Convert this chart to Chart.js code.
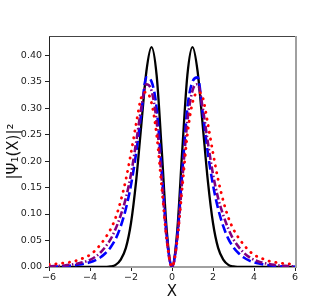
<!DOCTYPE html>
<html><head><meta charset="utf-8">
<script src="https://cdn.jsdelivr.net/npm/chart.js@4"></script>
<style>html,body{margin:0;padding:0;background:#fff}#wrap{width:329px;height:305px}</style>
</head><body><div id="wrap"><canvas id="c" width="329" height="305"></canvas></div>
<script>
const xs = [-6,-5.75,-5.5,-5.25,-5,-4.75,-4.5,-4.25,-4,-3.75,-3.5,-3.25,-3,-2.75,-2.5,-2.25,-2,-1.75,-1.5,-1.25,-1,-0.75,-0.5,-0.25,0,0.25,0.5,0.75,1,1.25,1.5,1.75,2,2.25,2.5,2.75,3,3.25,3.5,3.75,4,4.25,4.5,4.75,5,5.25,5.5,5.75,6];
const black = [0,0,0,0,0,0,0,0,0,0,0,0.0003,0.001,0.004,0.014,0.036,0.083,0.162,0.267,0.369,0.415,0.362,0.220,0.066,0,0.066,0.220,0.362,0.415,0.369,0.267,0.162,0.083,0.036,0.014,0.004,0.001,0.0003,0,0,0,0,0,0,0,0,0,0,0];
const blue = [0.0005,0.0007,0.001,0.0015,0.0023,0.0033,0.0046,0.0065,0.009,0.0125,0.018,0.026,0.037,0.053,0.077,0.11,0.155,0.215,0.29,0.358,0.35,0.30,0.18,0.055,0,0.055,0.18,0.30,0.35,0.358,0.29,0.215,0.155,0.11,0.077,0.053,0.037,0.026,0.018,0.0125,0.009,0.0065,0.0046,0.0033,0.0023,0.0015,0.001,0.0007,0.0005];
const purple = [0.0012,0.0016,0.0021,0.0029,0.004,0.0055,0.0075,0.01,0.0135,0.019,0.027,0.038,0.052,0.072,0.098,0.13,0.175,0.235,0.30,0.345,0.333,0.275,0.165,0.05,0,0.05,0.165,0.275,0.333,0.345,0.30,0.235,0.175,0.13,0.098,0.072,0.052,0.038,0.027,0.019,0.0135,0.01,0.0075,0.0055,0.004,0.0029,0.0021,0.0016,0.0012];
const red = [0.005,0.0057,0.0065,0.0077,0.009,0.011,0.0145,0.018,0.023,0.031,0.042,0.055,0.071,0.093,0.125,0.165,0.215,0.27,0.32,0.33,0.31,0.25,0.15,0.05,0,0.05,0.15,0.25,0.31,0.33,0.32,0.27,0.215,0.165,0.125,0.093,0.071,0.055,0.042,0.031,0.023,0.018,0.0145,0.011,0.009,0.0077,0.0065,0.0057,0.005];
const xTicks = [-6,-4,-2,0,2,4,6];
const yTicks = [0,0.05,0.1,0.15,0.2,0.25,0.3,0.35,0.4];

const pts = arr => xs.map((x,i)=>({x:x,y:arr[i]}));
const FONT = 'DejaVu Sans';

const spines = {
  id:'spines',
  afterDraw(chart){
    const a = chart.chartArea, ctx = chart.ctx;
    ctx.save();
    ctx.lineWidth = 1; ctx.strokeStyle = '#444';
    ctx.beginPath(); ctx.moveTo(a.left, a.top+0.5); ctx.lineTo(a.right, a.top+0.5); ctx.stroke();
    ctx.lineWidth = 2; ctx.strokeStyle = '#a0a0a0';
    ctx.beginPath(); ctx.moveTo(a.right+1, a.top); ctx.lineTo(a.right+1, a.bottom+1); ctx.stroke();
    ctx.restore();
  }
};

new Chart(document.getElementById('c'), {
  type:'line',
  data:{datasets:[
    {data:pts(black), borderColor:'#000000', borderWidth:2.3, order:4},
    {data:pts(blue), borderColor:'#0000ff', borderWidth:2.6, borderDash:[9,4], order:3},
    {data:pts(purple), borderColor:'#800080', borderWidth:2.6, borderDash:[7,2.5,1.5,2.5], order:2},
    {data:pts(red), borderColor:'#ff0000', borderWidth:2.8, borderDash:[0.3,6.5], borderCapStyle:'round', order:1}
  ]},
  options:{
    responsive:false, animation:false, events:[],
    devicePixelRatio:1,
    layout:{padding:{left:0,top:36,right:34,bottom:0}},
    elements:{point:{radius:0}, line:{cubicInterpolationMode:'monotone', fill:false}},
    plugins:{legend:{display:false}, tooltip:{enabled:false}},
    scales:{
      x:{type:'linear', min:-6, max:6,
        afterFit(s){ s.height = 38; },
        afterBuildTicks(s){ s.ticks = xTicks.map(v=>({value:v})); },
        ticks:{color:'#222', font:{family:FONT,size:9.5}, padding:1, maxRotation:0,
          callback:v=> v<0 ? '\u2212'+Math.abs(v) : String(v)},
        grid:{drawOnChartArea:false, drawTicks:true, tickLength:4, tickColor:'#222'},
        border:{color:'#a0a0a0', width:2},
        title:{display:true, text:'X', color:'#111', font:{family:FONT,size:15}, padding:{top:0,bottom:4}}
      },
      y:{type:'linear', min:0, max:0.436,
        afterFit(s){ s.width = 49; },
        afterBuildTicks(s){ s.ticks = yTicks.map(v=>({value:v})); },
        ticks:{color:'#222', font:{family:FONT,size:9.5}, padding:3,
          callback:v=> v.toFixed(2)},
        grid:{drawOnChartArea:false, drawTicks:true, tickLength:4, tickColor:'#222'},
        border:{color:'#222', width:1},
        title:{display:true, text:'|\u03A8\u2081(X)|\u00B2', color:'#111', font:{family:FONT,size:15}, padding:{top:5,bottom:0}}
      }
    }
  },
  plugins:[spines]
});
</script></body></html>
